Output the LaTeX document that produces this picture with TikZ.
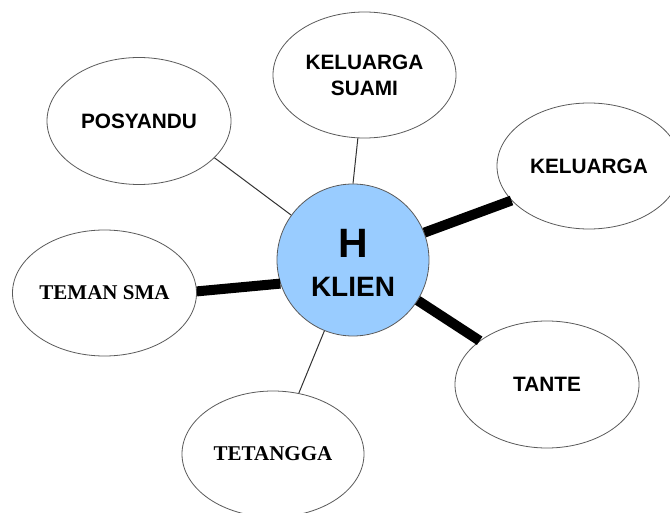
\documentclass[tikz,border=0pt]{standalone}
\usepackage{fontspec}
\setmainfont{Liberation Sans}
\newfontfamily\timesfont{Liberation Serif}
\usetikzlibrary{shapes.geometric}
\definecolor{hubblue}{HTML}{99CCFF}
\definecolor{edgegray}{HTML}{5A5A5A}
\definecolor{thinline}{HTML}{333333}
\tikzset{
  bubble/.style={ellipse, draw=edgegray, line width=0.8pt, fill=white,
    minimum width=184pt, minimum height=127pt, inner sep=0pt,
    align=center, font=\fontsize{20.8}{26}\selectfont\bfseries},
  serifbubble/.style={bubble, font=\fontsize{21}{26}\timesfont\bfseries},
  hub/.style={circle, draw=edgegray, line width=0.8pt, fill=hubblue,
    minimum size=152pt, inner sep=0pt},
  thinlink/.style={draw=thinline, line width=1pt},
  thicklink/.style={draw=black, line width=10pt},
}
\begin{document}
\begin{tikzpicture}[x=1pt,y=-1pt]
\useasboundingbox (0,0) rectangle (670,513);
\clip (0,0) rectangle (670,513);
\fill[white] (0,0) rectangle (670,513);

\node[bubble] (posy) at (139,121) {POSYANDU};
\node[bubble, minimum width=183pt, minimum height=126pt] (suami) at (364.5,75) {KELUARGA\\SUAMI};
\node[bubble, minimum height=126pt] (kel) at (589,166) {KELUARGA};
\node[serifbubble, minimum height=126pt] (teman) at (104.5,293) {TEMAN SMA};
\node[bubble] (tante) at (547,384.5) {TANTE};
\node[serifbubble, minimum width=182pt, minimum height=126pt] (tetangga) at (273,454) {TETANGGA};

\node[hub] (klien) at (353,260) {};
\node[font=\fontsize{41}{41}\selectfont\bfseries] (h) at (353,243) {H};
\node[font=\fontsize{28}{28}\selectfont\bfseries] (kl) at (353,287) {KLIEN};

\draw[thinlink] (posy.-26.6) -- (klien.144);
\draw[thinlink] (suami.-96) -- (klien.90);
\draw[thinlink] (tetangga.67.7) -- (klien.248.5);
\draw[thicklink] (kel.204.5) -- (klien.21);
\draw[thicklink] (teman.1) -- (klien.198);
\draw[thicklink] (tante.147) -- (klien.-32);
\end{tikzpicture}
\end{document}
